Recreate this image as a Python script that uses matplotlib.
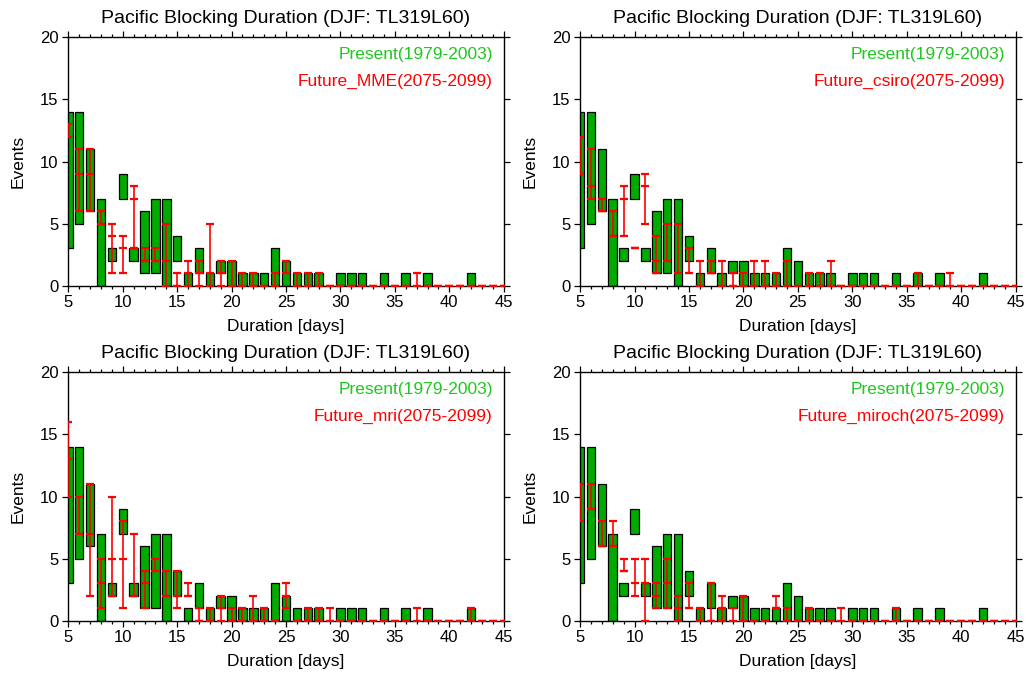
import matplotlib
matplotlib.use("Agg")
import matplotlib.pyplot as plt
import numpy as np
from matplotlib.ticker import MultipleLocator

plt.rcParams["font.family"] = ["Liberation Sans", "DejaVu Sans"]

# blocking durations (days)
durations = list(range(5, 46))

# present climate: event-count range per duration (None = no events)
present_low = [3, 5, 6, 0, 2, 7, 2, 1, 1, 0, 2, 0, 1, 0, 1, 0, 0, 0, 0, 0, 0,
               0, 0, 0, None, 0, 0, 0, None, 0, None, 0, None, 0, None, None, None, 0, None, None, None]
present_high = [14, 14, 11, 7, 3, 9, 3, 6, 7, 7, 4, 1, 3, 1, 2, 2, 1, 1, 1, 3, 2,
                1, 1, 1, None, 1, 1, 1, None, 1, None, 1, None, 1, None, None, None, 1, None, None, None]

# future runs: (min, middle, max) event counts per duration
mme_low = [12, 6, 6, 5, 1, 1, 3, 2, 2, 0, 0, 0, 0, 0, 0, 0, 0, 0, 0, 0, 1,
           0, 0, 0, 0, 0, 0, 0, 0, 0, 0, 0, 0, 0, 0, 0, 0, 0, 0, 0, 0]
mme_mid = [12, 9, 9, 5, 4, 3, 7, 2, 2, 2, 0, 1, 1, 1, 1, 0, 0, 0, 0, 0, 1,
           0, 0, 0, 0, 0, 0, 0, 0, 0, 0, 0, 0, 0, 0, 0, 0, 0, 0, 0, 0]
mme_high = [13, 11, 11, 6, 5, 4, 8, 3, 3, 5, 1, 2, 2, 5, 2, 2, 1, 1, 0, 1, 2,
            1, 1, 1, 0, 0, 0, 0, 0, 0, 0, 0, 1, 0, 0, 0, 0, 0, 0, 0, 0]

csiro_low = [9, 7, 6, 4, 4, 3, 5, 1, 2, 1, 1, 0, 1, 0, 0, 0, 0, 0, 0, 0, 0,
             0, 0, 0, 0, 0, 0, 0, 0, 0, 0, 0, 0, 0, 0, 0, 0, 0, 0, 0, 0]
csiro_mid = [9, 8, 6, 4, 7, 3, 8, 2, 2, 1, 1, 0, 1, 0, 0, 0, 0, 0, 0, 0, 0,
             0, 0, 0, 0, 0, 0, 0, 0, 0, 0, 0, 0, 0, 0, 0, 0, 0, 0, 0, 0]
csiro_high = [12, 11, 7, 6, 8, 3, 9, 4, 5, 5, 3, 2, 2, 2, 1, 1, 2, 2, 1, 2, 0,
              1, 1, 2, 0, 0, 0, 0, 0, 0, 0, 1, 0, 0, 1, 0, 0, 0, 0, 0, 0]

mri_low = [10, 7, 2, 1, 2, 1, 2, 1, 4, 2, 1, 2, 0, 0, 0, 0, 0, 0, 0, 0, 1,
           0, 0, 0, 0, 0, 0, 0, 0, 0, 0, 0, 0, 0, 0, 0, 0, 0, 0, 0, 0]
mri_mid = [13, 7, 7, 3, 5, 5, 2, 3, 4, 2, 2, 2, 0, 0, 1, 0, 0, 0, 0, 0, 2,
           0, 0, 0, 0, 0, 0, 0, 0, 0, 0, 0, 0, 0, 0, 0, 0, 0, 0, 0, 0]
mri_high = [16, 10, 11, 5, 10, 8, 7, 4, 5, 4, 4, 3, 1, 1, 2, 1, 1, 2, 1, 0, 3,
            0, 1, 1, 1, 0, 0, 0, 0, 0, 0, 0, 1, 0, 0, 0, 0, 1, 0, 0, 0]

miroch_low = [8, 9, 6, 6, 4, 2, 0, 1, 1, 0, 1, 0, 0, 0, 0, 0, 0, 0, 1, 0, 0,
              0, 0, 0, 0, 0, 0, 0, 0, 0, 0, 0, 0, 0, 0, 0, 0, 0, 0, 0, 0]
miroch_mid = [8, 9, 6, 6, 4, 3, 3, 2, 3, 1, 1, 0, 0, 1, 0, 0, 0, 0, 1, 0, 0,
              0, 0, 0, 0, 0, 0, 0, 0, 0, 0, 0, 0, 0, 0, 0, 0, 0, 0, 0, 0]
miroch_high = [11, 11, 8, 8, 5, 5, 5, 3, 5, 2, 3, 1, 3, 2, 1, 2, 0, 0, 2, 1, 0,
               1, 0, 0, 1, 0, 0, 0, 0, 1, 0, 0, 0, 0, 0, 0, 0, 0, 0, 0, 0]

runs = [
    ("MME", mme_low, mme_mid, mme_high),
    ("csiro", csiro_low, csiro_mid, csiro_high),
    ("mri", mri_low, mri_mid, mri_high),
    ("miroch", miroch_low, miroch_mid, miroch_high),
]

BAR_GREEN = "#00aa00"
TEXT_GREEN = "#1ec81e"
RED = "#ff0000"

# axes boxes in figure fractions: left, bottom, width, height
positions = [
    (0.0664, 0.5767, 0.4231, 0.368),
    (0.5637, 0.5767, 0.4234, 0.368),
    (0.0664, 0.0804, 0.4231, 0.368),
    (0.5637, 0.0804, 0.4234, 0.368),
]

fig = plt.figure(figsize=(10.29, 6.75), dpi=100)

x = np.array(durations, dtype=float)
p_lo = np.array([np.nan if v is None else v for v in present_low], dtype=float)
p_hi = np.array([np.nan if v is None else v for v in present_high], dtype=float)

for (name, lo, mid, hi), pos in zip(runs, positions):
    ax = fig.add_axes(pos)
    have = ~np.isnan(p_lo)
    ax.bar(x[have], p_hi[have] - p_lo[have], bottom=p_lo[have], width=0.78,
           color=BAR_GREEN, edgecolor="black", linewidth=0.9, zorder=2)

    lo = np.array(lo, dtype=float)
    mid = np.array(mid, dtype=float)
    hi = np.array(hi, dtype=float)
    ax.errorbar(x, mid, yerr=[mid - lo, hi - mid], fmt="_", color=RED,
                ecolor=RED, elinewidth=1.2, capsize=2.6, capthick=1.6,
                markersize=5.2, markeredgewidth=1.6, zorder=3)

    ax.set_xlim(5, 45)
    ax.set_ylim(0, 20)
    ax.xaxis.set_major_locator(MultipleLocator(5))
    ax.xaxis.set_minor_locator(MultipleLocator(1))
    ax.yaxis.set_major_locator(MultipleLocator(5))
    ax.tick_params(which="both", direction="out", top=True, right=True,
                   labelsize=12, width=0.9, pad=3)
    ax.tick_params(which="major", length=4)
    ax.tick_params(which="minor", length=2.5)
    for spine in ax.spines.values():
        spine.set_linewidth(1.0)

    ax.set_xlabel("Duration [days]", fontsize=12.5, labelpad=6)
    ax.set_ylabel("Events", fontsize=12.5, labelpad=10)
    ax.set_title("Pacific Blocking Duration (DJF: TL319L60)", fontsize=14, pad=10)

    ax.text(0.975, 0.929, "Present(1979-2003)", transform=ax.transAxes,
            ha="right", va="center", color=TEXT_GREEN, fontsize=12.5)
    ax.text(0.975, 0.821, f"Future_{name}(2075-2099)", transform=ax.transAxes,
            ha="right", va="center", color=RED, fontsize=12.5)

fig.savefig("out.png", dpi=100)
